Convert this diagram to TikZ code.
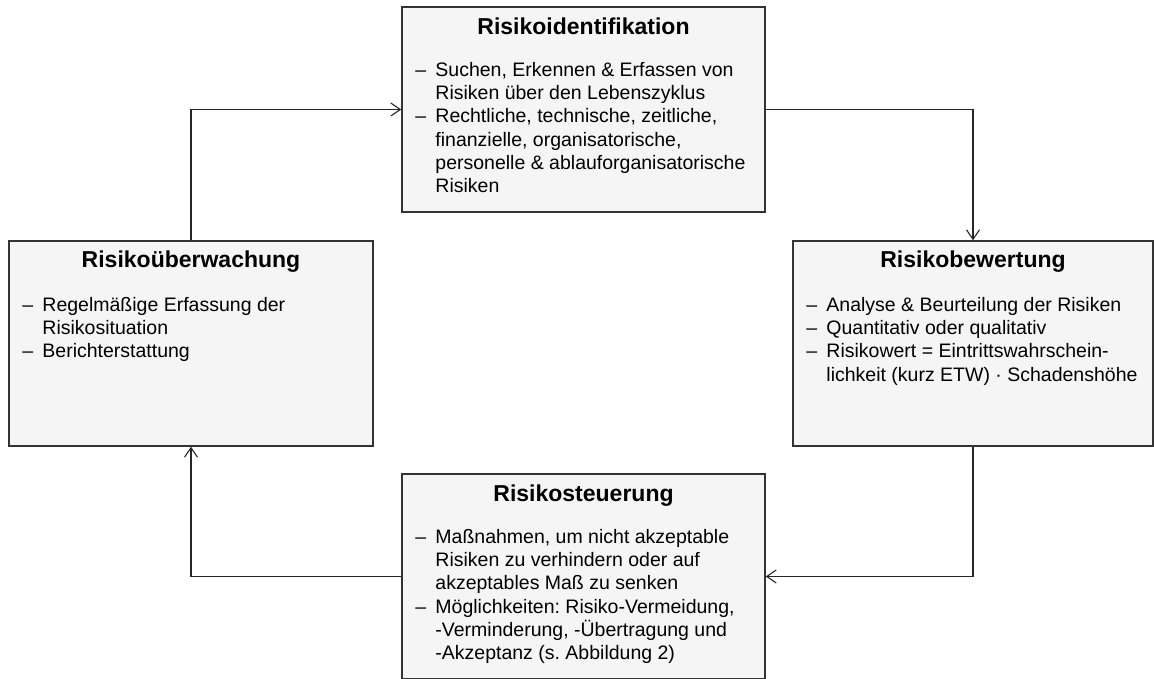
\documentclass[tikz,border=0pt]{standalone}
\usepackage{fontspec}
\setmainfont{Liberation Sans}
\usetikzlibrary{positioning,arrows.meta}
\frenchspacing

\tikzset{
  kasten/.style={draw=black!80, fill=gray!8, line width=1.5pt,
    minimum width=363pt, minimum height=205pt, inner sep=0pt},
  titel/.style={font=\fontsize{23}{27}\selectfont\bfseries, inner sep=0pt, anchor=base},
  punkte/.style={font=\fontsize{19.5}{23.3}\selectfont, inner sep=0pt, anchor=base west},
  pfeil/.style={draw=black!85, line width=1.1pt, -{Straight Barb[length=9.5pt,width=13pt]}}
}
\newcommand{\strich}{\makebox[21pt][l]{\hspace{1pt}--}}
\newcommand{\einr}{\hspace{21pt}}

\begin{document}
\begin{tikzpicture}[x=1pt,y=1pt]
\useasboundingbox (0,0) rectangle (1154,678);

% Kaesten
\node[kasten] (ident)  at (583.5,568.5) {};
\node[kasten, minimum width=364pt] (ueberw) at (191,334.5) {};
\node[kasten, minimum width=360pt] (bewert) at (973,334.5) {};
\node[kasten] (steuer) at (583.5,101.5) {};

% Ueberschriften
\node[titel, below=28pt of ident.north, anchor=base]  (identT)  {Risikoidentifikation};
\node[titel, below=27pt of ueberw.north, anchor=base] (ueberwT) {Risikoüberwachung};
\node[titel, below=27pt of bewert.north, anchor=base] (bewertT) {Risikobewertung};
\node[titel, below=28pt of steuer.north, anchor=base] (steuerT) {Risikosteuerung};

% Inhalte
\node[punkte, below right=70pt and 13pt of ident.north west, anchor=base west] (identP) {%
  \begin{tabular}[t]{@{}l@{}}
  \strich Suchen, Erkennen \& Erfassen von\\
  \einr Risiken über den Lebenszyklus\\
  \strich Rechtliche, technische, zeitliche,\\
  \einr finanzielle, organisatorische,\\
  \einr personelle \& ablauforganisatorische\\
  \einr Risiken
  \end{tabular}};

\node[punkte, below right=71pt and 13pt of ueberw.north west, anchor=base west] (ueberwP) {%
  \begin{tabular}[t]{@{}l@{}}
  \strich Regelmäßige Erfassung der\\
  \einr Risikosituation\\
  \strich Berichterstattung
  \end{tabular}};

\node[punkte, below right=71pt and 13pt of bewert.north west, anchor=base west] (bewertP) {%
  \begin{tabular}[t]{@{}l@{}}
  \strich Analyse \& Beurteilung der Risiken\\
  \strich Quantitativ oder qualitativ\\
  \strich Risikowert = Eintrittswahrschein-\\
  \einr lichkeit (kurz ETW) · Schadenshöhe
  \end{tabular}};

\node[punkte, below right=70pt and 13pt of steuer.north west, anchor=base west] (steuerP) {%
  \begin{tabular}[t]{@{}l@{}}
  \strich Maßnahmen, um nicht akzeptable\\
  \einr Risiken zu verhindern oder auf\\
  \einr akzeptables Maß zu senken\\
  \strich Möglichkeiten: Risiko-Vermeidung,\\
  \einr -Verminderung, -Übertragung und\\
  \einr -Akzeptanz (s. Abbildung 2)
  \end{tabular}};

% Kreislauf
\draw[pfeil] (ueberw.north) |- (ident.west);
\draw[pfeil] (ident.east) -| (bewert.north);
\draw[pfeil] (bewert.south) |- (steuer.east);
\draw[pfeil] (steuer.west) -| (ueberw.south);
\end{tikzpicture}
\end{document}
